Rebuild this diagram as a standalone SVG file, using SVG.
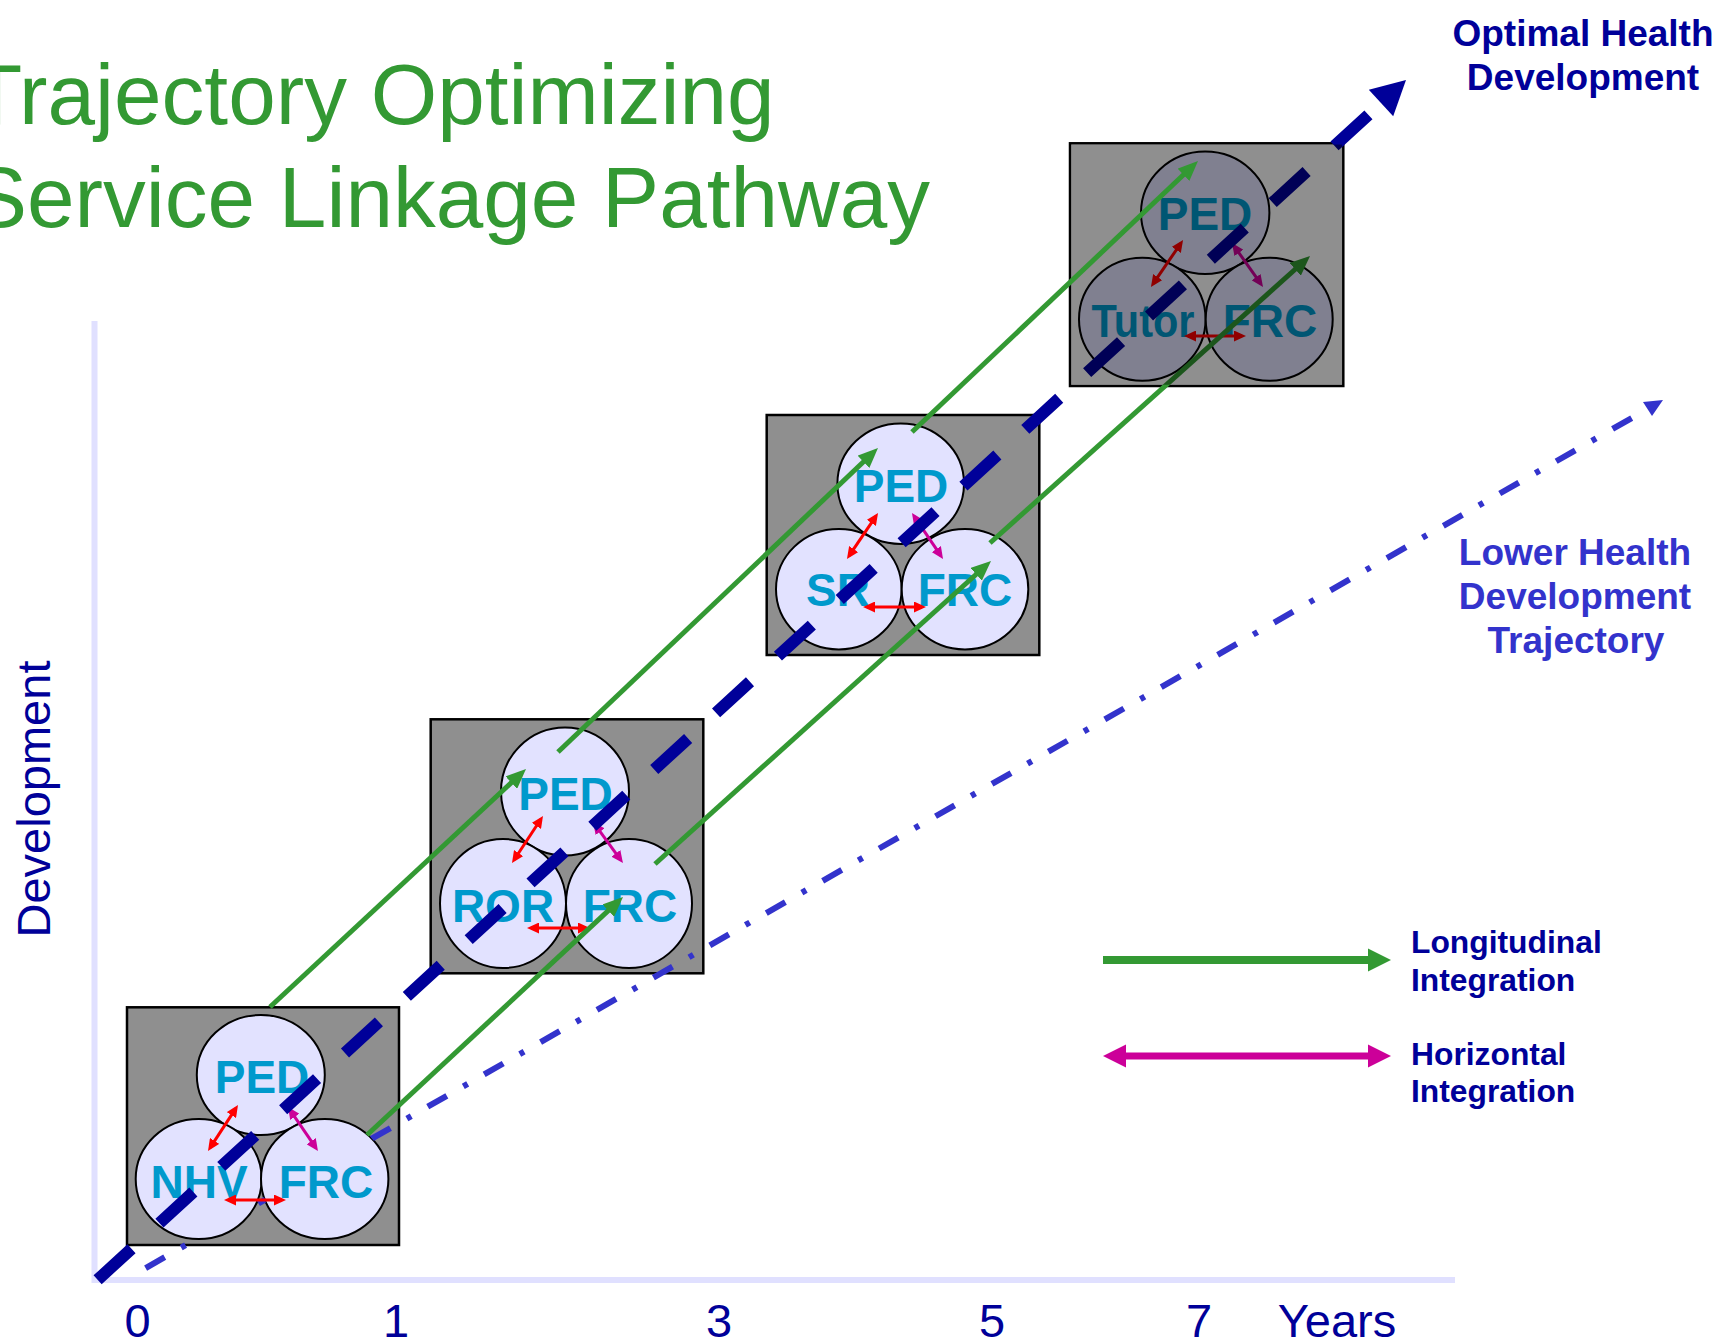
<svg xmlns="http://www.w3.org/2000/svg" width="1722" height="1342" viewBox="0 0 1722 1342">
<style>
.box{fill:#8f8f8f;stroke:#000;stroke-width:2.5}
.cir{fill:#e2e2ff;stroke:#000;stroke-width:2}
.ct{font-family:"Liberation Sans",Arial,sans-serif;font-weight:bold;font-size:46px;fill:#0099cc;text-anchor:middle}
.red{stroke:#ff0000;stroke-width:3;fill:none;marker-start:url(#mRed);marker-end:url(#mRed)}
.mag{stroke:#cc0099;stroke-width:3;fill:none;marker-start:url(#mMag);marker-end:url(#mMag)}
.grn{stroke:#339933;stroke-width:5;fill:none;marker-end:url(#mGrn)}
.lab{font-family:"Liberation Sans",Arial,sans-serif;fill:#000099}
.bl{font-weight:bold}
</style>
<defs>
<marker id="mRed" markerUnits="userSpaceOnUse" markerWidth="12" markerHeight="11" refX="8" refY="5.5" orient="auto-start-reverse"><path d="M0,0 L12,5.5 L0,11 z" fill="#ff0000"/></marker>
<marker id="mMag" markerUnits="userSpaceOnUse" markerWidth="12" markerHeight="11" refX="8" refY="5.5" orient="auto-start-reverse"><path d="M0,0 L12,5.5 L0,11 z" fill="#cc0099"/></marker>
<marker id="mGrn" markerUnits="userSpaceOnUse" markerWidth="20" markerHeight="17" refX="8" refY="8.5" orient="auto"><path d="M0,0 L20,8.5 L0,17 z" fill="#339933"/></marker>
<mask id="circMask" maskUnits="userSpaceOnUse" x="0" y="0" width="1722" height="1342">
<rect x="0" y="0" width="1722" height="1342" fill="#fff"/>
<ellipse cx="260.8" cy="1075" rx="64" ry="60" fill="#000"/>
<ellipse cx="198.7" cy="1179" rx="63" ry="60" fill="#000"/>
<ellipse cx="324.7" cy="1179" rx="63.7" ry="60" fill="#000"/>
<ellipse cx="565" cy="791.5" rx="64" ry="64" fill="#000"/>
<ellipse cx="503" cy="903.5" rx="63" ry="64.5" fill="#000"/>
<ellipse cx="629" cy="903.5" rx="63" ry="64.5" fill="#000"/>
</mask>
</defs>
<rect width="1722" height="1342" fill="#fff"/>

<g id="title" font-family="Liberation Sans, Arial, sans-serif" font-size="85.5" fill="#339933">
<text x="-30" y="124">Trajectory Optimizing</text>
<text x="-30" y="227">Service Linkage Pathway</text>
</g>

<g id="axes" stroke="#e0e0ff" stroke-width="6">
<line x1="94.5" y1="321" x2="94.5" y2="1283"/>
<line x1="92" y1="1280" x2="1455" y2="1280"/>
</g>

<g id="box1">
<rect class="box" x="127" y="1007.3" width="272" height="237.7"/>
<g id="box1-ped"><ellipse class="cir" cx="260.8" cy="1075" rx="64" ry="60"/><text class="ct" x="262" y="1093">PED</text></g>
<g id="box1-nhv"><ellipse class="cir" cx="198.7" cy="1179" rx="63" ry="60"/><text class="ct" x="199" y="1198">NHV</text></g>
<g id="box1-frc"><ellipse class="cir" cx="324.7" cy="1179" rx="63.7" ry="60"/><text class="ct" x="326" y="1198">FRC</text></g>
</g>

<g id="box2">
<rect class="box" x="430.7" y="719.3" width="272.6" height="254"/>
<g id="box2-ped"><ellipse class="cir" cx="565" cy="791.5" rx="64" ry="64"/><text class="ct" x="565.5" y="810">PED</text></g>
<g id="box2-ror"><ellipse class="cir" cx="503" cy="903.5" rx="63" ry="64.5"/><text class="ct" x="503" y="922">ROR</text></g>
<g id="box2-frc"><ellipse class="cir" cx="629" cy="903.5" rx="63" ry="64.5"/><text class="ct" x="630" y="922">FRC</text></g>
</g>

<g id="box3">
<rect class="box" x="766.7" y="415" width="272.6" height="240"/>
<g id="box3-ped"><ellipse class="cir" cx="900.7" cy="483.7" rx="63.3" ry="60.3"/><text class="ct" x="901" y="502">PED</text></g>
<g id="box3-sr"><ellipse class="cir" cx="838.8" cy="589.2" rx="62.8" ry="60.2"/><text class="ct" x="838" y="606">SR</text></g>
<g id="box3-frc"><ellipse class="cir" cx="965" cy="589.2" rx="63.3" ry="60.2"/><text class="ct" x="965" y="606">FRC</text></g>
</g>

<g id="box4">
<rect x="1070" y="143.3" width="273.3" height="242.7" fill="#fdfdfd" stroke="#000" stroke-width="2.5"/>
<g id="box4-ped"><ellipse class="cir" cx="1205.2" cy="212.8" rx="64.2" ry="61.2"/><text class="ct" x="1205" y="230">PED</text></g>
<g id="box4-tutor"><ellipse class="cir" cx="1142.3" cy="319.2" rx="63.3" ry="61.5"/><text class="ct" x="1143" y="337" font-size="42" textLength="103" lengthAdjust="spacingAndGlyphs">Tutor</text></g>
<g id="box4-frc"><ellipse class="cir" cx="1269.2" cy="319.2" rx="63.5" ry="61.5"/><text class="ct" x="1270" y="337">FRC</text></g>
</g>

<g id="connectors">
<g id="lower-trajectory">
<path d="M130,1277 L1647.5,409" stroke="#3333cc" stroke-width="6" fill="none" stroke-dasharray="22 19 5 19" stroke-dashoffset="47" mask="url(#circMask)"/>
<polygon points="1663,400 1643,402 1652,416" fill="#3333cc"/>
</g>
<g id="horizontal-links">
<path class="red" d="M210.2,1147.6 L235.8,1108.4"/>
<path class="mag" d="M290.3,1110.3 L315.7,1147.7"/>
<path class="red" d="M228,1200 L282,1200"/>
<path class="red" d="M514.2,859.7 L540.8,819.3"/>
<path class="mag" d="M595.4,825.2 L620.6,859.8"/>
<path class="red" d="M531,928 L586,928"/>
<path class="red" d="M849.2,555.7 L875.8,516.3"/>
<path class="mag" d="M914.2,516.3 L940.8,555.7"/>
<path class="red" d="M867,607 L922,607"/>
<path class="red" d="M1153.2,283.7 L1180.8,243.3"/>
<path class="mag" d="M1234.3,246.3 L1260.7,283.7"/>
<path class="red" d="M1188,336 L1242,336"/>
</g>
<g id="optimal-trajectory">
<path d="M94,1283.1 L1381,103.3" stroke="#000099" stroke-width="12" fill="none" stroke-dasharray="46 37.9" stroke-dashoffset="79"/>
<polygon points="1406,80 1368.8,89.7 1393.2,116.3" fill="#000099"/>
</g>
<g id="longitudinal-links">
<path class="grn" d="M270,1007 L517.2,777.2"/>
<path class="grn" d="M367,1135 L614.2,905.2"/>
<path class="grn" d="M558,752 L869.3,456.3"/>
<path class="grn" d="M655,864 L982.1,569"/>
<path class="grn" d="M990,543 L1301.1,264"/>
</g>
</g>

<rect id="box4-shade" x="1071.25" y="144.55" width="270.8" height="240.2" fill="#000" fill-opacity="0.434"/>

<g id="connector-top">
<path class="grn" d="M912,432 L1189.3,169.3"/>
</g>

<g id="legend">
<line x1="1103" y1="960" x2="1370" y2="960" stroke="#339933" stroke-width="8"/>
<polygon points="1368,948.5 1391,960 1368,971.5" fill="#339933"/>
<line x1="1124" y1="1056" x2="1370" y2="1056" stroke="#cc0099" stroke-width="7"/>
<polygon points="1126,1044.5 1103,1056 1126,1067.5" fill="#cc0099"/>
<polygon points="1368,1044.5 1391,1056 1368,1067.5" fill="#cc0099"/>
<text class="lab bl" x="1411" y="953" font-size="31.8">Longitudinal</text>
<text class="lab bl" x="1411" y="991" font-size="31.8">Integration</text>
<text class="lab bl" x="1411" y="1065" font-size="31.8">Horizontal</text>
<text class="lab bl" x="1411" y="1102" font-size="31.8">Integration</text>
</g>

<g id="labels">
<text class="lab bl" x="1583" y="46" font-size="37" text-anchor="middle">Optimal Health</text>
<text class="lab bl" x="1583" y="90" font-size="37" text-anchor="middle">Development</text>
<g font-family="Liberation Sans, Arial, sans-serif" font-weight="bold" font-size="37" fill="#3333cc" text-anchor="middle">
<text x="1575" y="565">Lower Health</text>
<text x="1575" y="609">Development</text>
<text x="1576" y="653">Trajectory</text>
</g>
<g class="lab" font-size="47" text-anchor="middle">
<text x="137.5" y="1337">0</text>
<text x="396" y="1337">1</text>
<text x="719" y="1337">3</text>
<text x="992" y="1337">5</text>
<text x="1199" y="1337">7</text>
<text x="1337" y="1337">Years</text>
<text transform="translate(50,799) rotate(-90)" x="0" y="0">Development</text>
</g>
</g>
</svg>
